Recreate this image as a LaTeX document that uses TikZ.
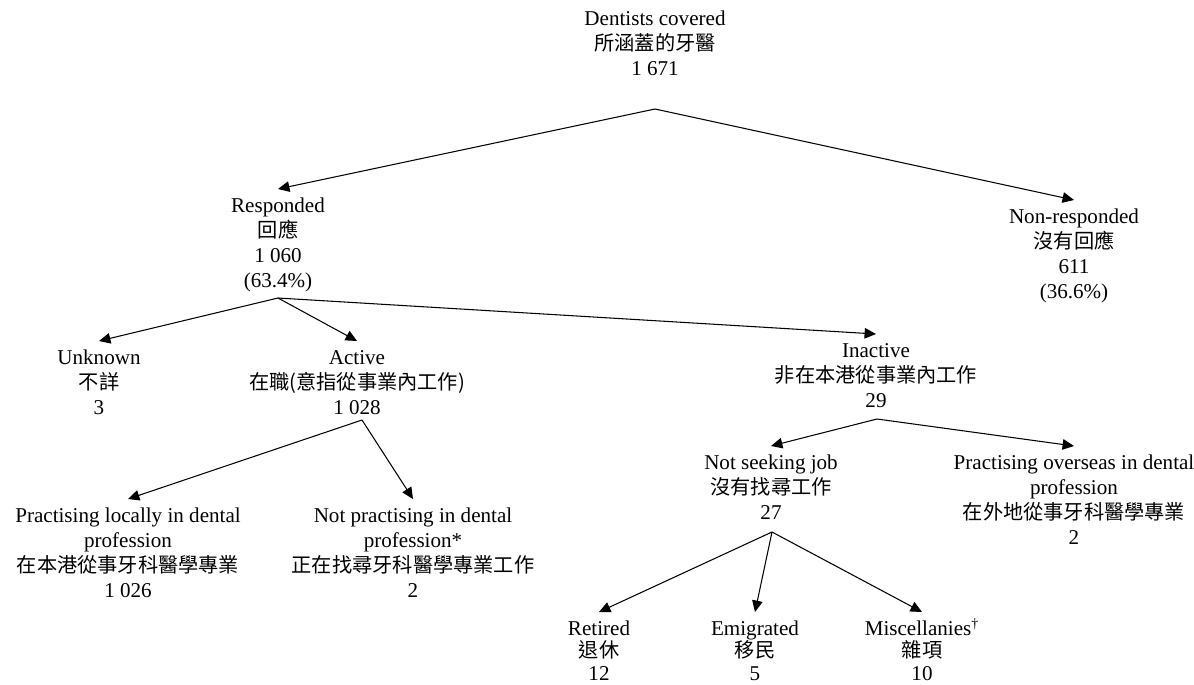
\documentclass[tikz,border=0pt]{standalone}
\usepackage{fontspec}
\setmainfont{Liberation Serif}
\newfontfamily\cjk{Noto Sans CJK TC}
\usetikzlibrary{arrows.meta}
\tikzset{
	item/.style= {
		align=center, inner xsep=0pt, inner ysep=5pt,
		anchor=north,
		font=\fontsize{12}{14.2}\selectfont
	},
	leaf/.style= {
		item, font=\fontsize{12}{12.6}\selectfont
	},
	branch/.style= {
		draw, line width=0.6pt,
		-{Triangle[length=6.5pt,width=6pt]}
	}
}
\newcommand{\zh}[1]{{\cjk\fontsize{11.5}{13.9}\selectfont #1}}

\begin{document}
\begin{tikzpicture}[x=0.02cm,y=-0.02cm]
\useasboundingbox (0,0) rectangle (1194,684);

% level 0 and 1
\node[item] (total) at (655,2) {Dentists covered\\\zh{所涵蓋的牙醫}\\1 671};
\node[item] (resp) at (278,189) {Responded\\\zh{回應}\\1 060\\(63.4\%)};
\node[item] (nonresp) at (1074,200) {Non-responded\\\zh{沒有回應}\\611\\(36.6\%)};

% level 2
\node[item] (unknown) at (99,341) {Unknown\\\zh{不詳}\\3};
\node[item] (active) at (357,341) {Active\\\zh{在職(意指從事業內工作)}\\1 028};
\node[item] (inactive) at (876,334) {Inactive\\\zh{非在本港從事業內工作}\\29};

% level 3
\node[item] (local) at (128,499) {Practising locally in dental\\profession\\\zh{在本港從事牙科醫學專業}\\1 026};
\node[item] (notprac) at (413,499) {Not practising in dental\\profession*\\\zh{正在找尋牙科醫學專業工作}\\2};
\node[item] (notseek) at (771,446) {Not seeking job\\\zh{沒有找尋工作}\\27};
\node[item] (overseas) at (1074,446) {Practising overseas in dental\\profession\\\zh{在外地從事牙科醫學專業}\\2};

% level 4
\node[leaf] (retired) at (599,612) {Retired\\\zh{退休}\\12};
\node[leaf] (emig) at (755,612) {Emigrated\\\zh{移民}\\5};
\node[leaf] (misc) at (922,612) {Miscellanies\smash{\textsuperscript{\dag}}\\\zh{雜項}\\10};

% forks below each parent
\coordinate (fork0) at (655,109);
\coordinate (fork1) at (278,298);
\coordinate (fork2) at (362,420);
\coordinate (fork3) at (877,419);
\coordinate (fork4) at (772,532);

% arrows
\foreach \from/\to in {fork0/resp, fork0/nonresp,
	fork1/unknown, fork1/active, fork1/inactive,
	fork2/local, fork2/notprac,
	fork3/notseek, fork3/overseas,
	fork4/retired, fork4/emig, fork4/misc}{%
	\draw[branch] (\from) -- (\to.north);
}
\end{tikzpicture}
\end{document}
